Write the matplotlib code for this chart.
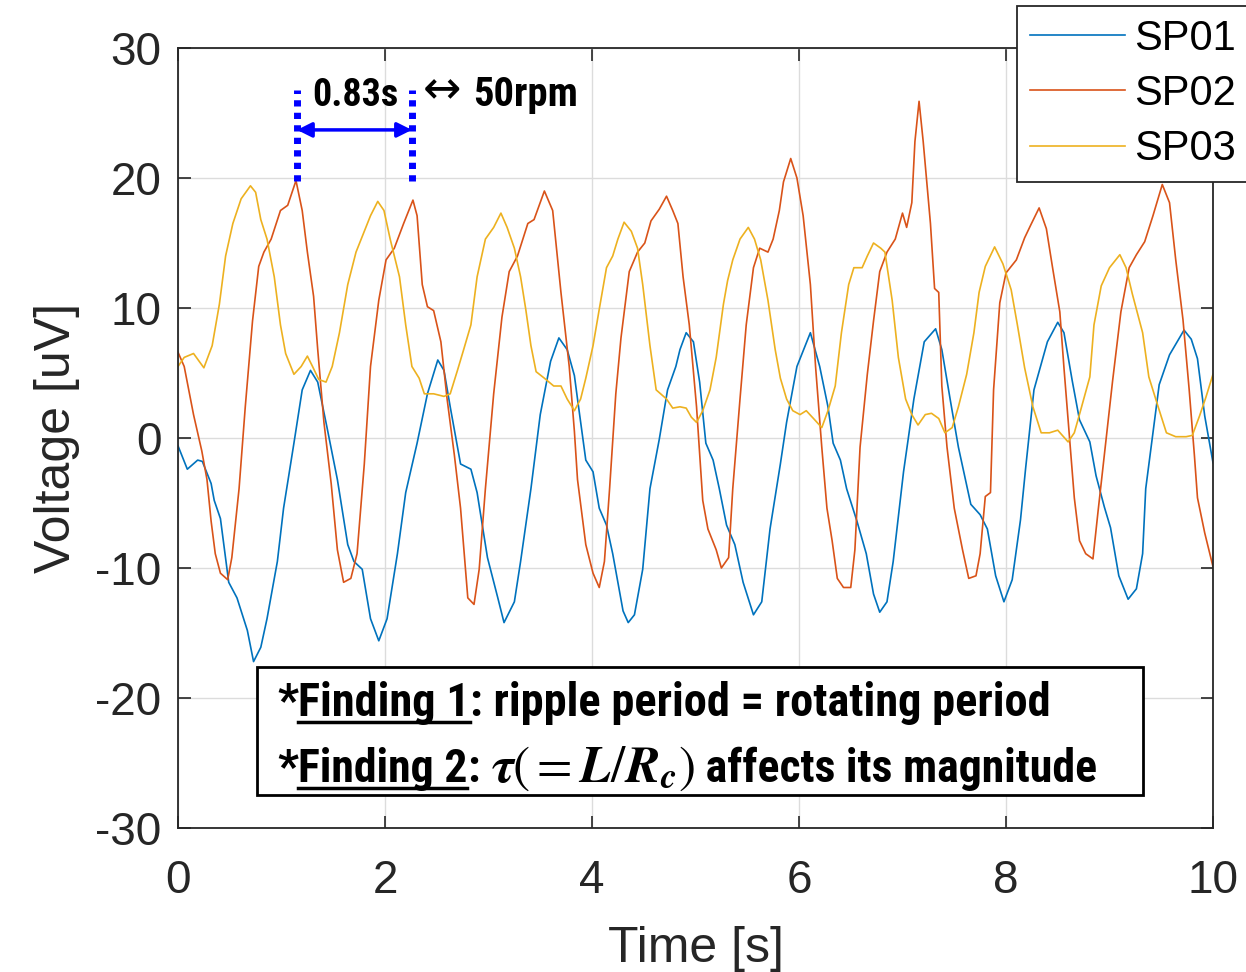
import matplotlib
matplotlib.use("Agg")
import matplotlib.pyplot as plt
from matplotlib.patches import Rectangle
from matplotlib.lines import Line2D
from matplotlib import font_manager as fm

# ---------------- data ----------------
sp01_t = [0.0, 0.09, 0.19, 0.235, 0.32, 0.35, 0.41, 0.49, 0.57, 0.67, 0.73, 0.80, 0.86, 0.96, 1.02, 1.12, 1.20, 1.28,
          1.35, 1.44, 1.54, 1.64, 1.70, 1.78, 1.86, 1.94, 2.02, 2.12, 2.20, 2.31, 2.41, 2.51, 2.57, 2.63, 2.73, 2.83,
          2.89, 2.99, 3.09, 3.15, 3.25, 3.31, 3.41, 3.50, 3.60, 3.68, 3.76, 3.83, 3.86, 3.94, 4.01, 4.07, 4.14, 4.20,
          4.30, 4.35, 4.41, 4.49, 4.56, 4.65, 4.73, 4.81, 4.85, 4.91, 4.98, 5.04, 5.10, 5.17, 5.23, 5.30, 5.38, 5.46,
          5.56, 5.64, 5.72, 5.82, 5.88, 5.98, 6.11, 6.20, 6.28, 6.33, 6.40, 6.46, 6.56, 6.65, 6.72, 6.78, 6.85, 6.91,
          7.01, 7.11, 7.21, 7.32, 7.38, 7.46, 7.54, 7.66, 7.75, 7.82, 7.90, 7.98, 8.06, 8.14, 8.19, 8.27, 8.34, 8.40,
          8.50, 8.56, 8.64, 8.71, 8.81, 8.87, 8.95, 9.01, 9.09, 9.18, 9.26, 9.32, 9.35, 9.42, 9.48, 9.58, 9.72, 9.79,
          9.85, 9.92, 10.0]
sp01_v = [-0.6, -2.4, -1.7, -1.8, -3.5, -4.8, -6.2, -11.1, -12.3, -14.8, -17.2, -16.1, -13.9, -9.5, -5.4, -0.4, 3.7, 5.2,
          4.3, 0.8, -3.2, -8.2, -9.5, -10.1, -13.9, -15.6, -13.9, -8.9, -4.2, -0.4, 3.4, 6.0, 5.2, 2.4, -2.0, -2.4,
          -4.2, -9.2, -12.3, -14.2, -12.6, -9.5, -3.9, 1.8, 5.9, 7.7, 6.8, 4.8, 3.0, -1.7, -2.6, -5.4, -6.7, -8.9,
          -13.3, -14.2, -13.6, -10.1, -3.9, -0.1, 3.7, 5.5, 6.8, 8.1, 7.4, 4.3, -0.4, -1.7, -3.9, -6.7, -8.2, -11.1,
          -13.6, -12.6, -7.0, -2.0, 1.2, 5.5, 8.1, 5.5, 2.4, -0.4, -1.7, -3.9, -6.4, -8.9, -12.0, -13.4, -12.6, -9.5,
          -2.6, 3.0, 7.4, 8.4, 6.8, 3.0, -0.7, -5.1, -5.9, -7.0, -10.6, -12.6, -10.9, -6.3, -2.3, 3.7, 5.7, 7.4,
          8.9, 8.1, 4.4, 1.4, -0.3, -2.9, -5.3, -6.9, -10.6, -12.4, -11.6, -8.9, -3.9, 0.4, 4.1, 6.4, 8.3, 7.6,
          6.1, 1.7, -1.9]

sp02_t = [0.0, 0.06, 0.15, 0.23, 0.28, 0.32, 0.36, 0.41, 0.48, 0.52, 0.59, 0.65, 0.72, 0.78, 0.83, 0.90, 0.99, 1.06,
          1.14, 1.20, 1.25, 1.31, 1.35, 1.41, 1.48, 1.54, 1.60, 1.67, 1.73, 1.80, 1.86, 1.94, 2.01, 2.09, 2.18, 2.27,
          2.31, 2.36, 2.41, 2.47, 2.54, 2.60, 2.67, 2.73, 2.80, 2.86, 2.91, 2.97, 3.05, 3.13, 3.20, 3.28, 3.38, 3.44,
          3.54, 3.62, 3.70, 3.78, 3.83, 3.86, 3.94, 4.01, 4.07, 4.12, 4.17, 4.23, 4.28, 4.33, 4.36, 4.44, 4.51, 4.57,
          4.65, 4.72, 4.78, 4.83, 4.88, 4.94, 5.01, 5.07, 5.12, 5.20, 5.25, 5.32, 5.36, 5.43, 5.49, 5.56, 5.62, 5.70,
          5.75, 5.81, 5.85, 5.92, 5.98, 6.04, 6.11, 6.16, 6.22, 6.27, 6.32, 6.37, 6.43, 6.50, 6.54, 6.59, 6.66, 6.72,
          6.78, 6.85, 6.93, 7.00, 7.04, 7.09, 7.12, 7.16, 7.20, 7.27, 7.31, 7.35, 7.38, 7.43, 7.50, 7.58, 7.64, 7.71,
          7.75, 7.80, 7.85, 7.88, 7.94, 8.00, 8.10, 8.18, 8.24, 8.32, 8.39, 8.45, 8.52, 8.56, 8.61, 8.66, 8.71, 8.77,
          8.84, 8.89, 8.95, 9.03, 9.11, 9.19, 9.26, 9.34, 9.42, 9.51, 9.58, 9.64, 9.71, 9.77, 9.82, 9.85, 9.92, 10.0]
sp02_v = [6.6, 5.5, 1.8, -1.0, -3.2, -6.4, -8.9, -10.4, -10.9, -9.2, -3.9, 2.4, 9.0, 13.2, 14.3, 15.3, 17.5, 17.9,
          19.8, 17.5, 14.3, 10.9, 6.8, 1.2, -3.5, -8.6, -11.1, -10.8, -8.9, -2.0, 5.5, 10.6, 13.7, 14.6, 16.5, 18.3,
          17.1, 11.8, 10.1, 9.8, 7.4, 3.0, -1.3, -5.4, -12.3, -12.8, -10.1, -3.9, 3.4, 9.3, 12.8, 14.0, 16.5, 16.8,
          19.0, 17.5, 11.2, 5.5, 0.5, -3.2, -8.2, -10.4, -11.5, -9.5, -3.9, 3.4, 7.7, 10.9, 12.8, 14.3, 15.0, 16.7,
          17.6, 18.6, 17.5, 16.5, 12.4, 8.7, 2.4, -4.8, -7.0, -8.6, -10.0, -9.2, -3.9, 3.0, 8.7, 13.1, 14.6, 14.3,
          15.3, 17.5, 19.7, 21.5, 20.0, 17.1, 11.8, 5.5, -0.7, -5.4, -7.9, -10.8, -11.5, -11.5, -8.6, -0.7, 4.9, 9.0,
          12.8, 14.3, 15.3, 17.3, 16.2, 18.1, 22.8, 25.9, 22.8, 16.5, 11.5, 11.2, 4.0, -0.7, -5.4, -8.6, -10.8, -10.6,
          -8.9, -4.5, -4.2, 3.7, 10.4, 12.7, 13.7, 15.4, 16.4, 17.7, 16.1, 13.1, 9.7, 5.4, 0.4, -4.6, -7.9, -8.9,
          -9.3, -5.6, -1.3, 4.4, 9.7, 13.1, 14.1, 15.1, 17.1, 19.5, 18.1, 13.7, 9.1, 3.7, -1.3, -4.6, -7.3, -9.9]

sp03_t = [0.0, 0.06, 0.15, 0.25, 0.33, 0.40, 0.46, 0.53, 0.61, 0.70, 0.75, 0.80, 0.86, 0.93, 0.99, 1.04, 1.12, 1.19,
          1.25, 1.30, 1.36, 1.43, 1.49, 1.56, 1.64, 1.72, 1.80, 1.86, 1.93, 1.99, 2.05, 2.14, 2.20, 2.26, 2.33, 2.38,
          2.47, 2.57, 2.63, 2.70, 2.76, 2.83, 2.89, 2.97, 3.05, 3.12, 3.18, 3.25, 3.31, 3.36, 3.41, 3.46, 3.54, 3.63,
          3.70, 3.76, 3.83, 3.89, 3.94, 4.01, 4.07, 4.14, 4.20, 4.25, 4.31, 4.38, 4.44, 4.49, 4.56, 4.62, 4.72, 4.78,
          4.85, 4.91, 4.96, 5.01, 5.07, 5.14, 5.20, 5.27, 5.31, 5.36, 5.43, 5.51, 5.57, 5.63, 5.70, 5.77, 5.82, 5.88,
          5.94, 6.01, 6.07, 6.14, 6.22, 6.28, 6.35, 6.41, 6.48, 6.53, 6.61, 6.66, 6.72, 6.79, 6.83, 6.90, 6.96, 7.03,
          7.09, 7.15, 7.22, 7.28, 7.35, 7.41, 7.48, 7.54, 7.62, 7.69, 7.74, 7.80, 7.89, 7.97, 8.05, 8.11, 8.18, 8.26,
          8.34, 8.42, 8.50, 8.60, 8.66, 8.72, 8.81, 8.85, 8.92, 9.00, 9.10, 9.16, 9.22, 9.32, 9.38, 9.47, 9.55, 9.64,
          9.74, 9.80, 9.87, 9.93, 10.0]
sp03_v = [5.5, 6.2, 6.5, 5.4, 7.1, 10.3, 14.0, 16.5, 18.4, 19.4, 18.9, 16.8, 15.3, 12.4, 8.7, 6.5, 4.9, 5.5,
          6.3, 5.5, 4.5, 4.3, 5.5, 8.1, 11.8, 14.3, 15.9, 17.1, 18.2, 17.5, 15.3, 12.4, 8.7, 5.5, 4.6, 3.4,
          3.4, 3.2, 3.4, 5.2, 6.8, 8.7, 12.4, 15.3, 16.2, 17.3, 16.2, 14.6, 12.4, 9.9, 7.1, 5.1, 4.6, 4.0,
          4.0, 3.0, 2.1, 3.0, 4.6, 7.1, 9.9, 13.1, 14.0, 15.3, 16.6, 15.9, 14.6, 11.8, 7.1, 3.7, 3.0, 2.3,
          2.4, 2.3, 1.6, 1.2, 2.1, 3.7, 6.2, 10.3, 12.1, 13.7, 15.3, 16.2, 15.3, 13.7, 10.6, 6.8, 4.6, 3.0,
          2.1, 1.8, 2.1, 1.5, 0.8, 2.1, 4.0, 8.1, 11.8, 13.1, 13.1, 14.0, 15.0, 14.6, 14.3, 10.6, 6.2, 3.0,
          1.8, 1.0, 1.8, 1.9, 1.5, 0.4, 0.8, 2.4, 4.9, 8.1, 11.2, 13.2, 14.7, 13.4, 11.4, 8.7, 5.4, 2.4,
          0.4, 0.4, 0.6, -0.3, 0.4, 2.1, 4.7, 8.7, 11.7, 13.1, 14.1, 13.1, 11.1, 8.1, 4.7, 2.4, 0.4, 0.1,
          0.1, 0.2, 1.7, 3.1, 4.9]

series_names = ["SP01", "SP02", "SP03"]
x_ticks = [0, 2, 4, 6, 8, 10]
y_ticks = [-30, -20, -10, 0, 10, 20, 30]
period_start, period_end = 1.15, 2.26

# ---------------- fonts ----------------
plt.rcParams['axes.unicode_minus'] = False
plt.rcParams['mathtext.fontset'] = 'stix'
tick_font = 'Liberation Sans'


def _weight(f):
    w = f.weight
    if isinstance(w, str):
        w = fm.weight_dict.get(w, 400)
    return w


def find_narrow_bold():
    prefs = ['liberation sans narrow', 'arial narrow', 'roboto condensed', 'open sans', 'noto sans',
             'dejavu sans', 'liberation', 'roboto', 'lato', 'inter']
    best = None
    for f in fm.fontManager.ttflist:
        name = f.name.lower()
        fname = f.fname.lower()
        narrow = ('narrow' in name or 'condensed' in name or 'narrow' in fname or 'condensed' in fname
                  or str(f.stretch) in ('condensed', 'semi-condensed', 'extra-condensed', 'ultra-condensed'))
        if not narrow or f.style != 'normal':
            continue
        w = _weight(f)
        if w < 600 or w > 800:
            continue
        if 'semi' in fname or 'extra' in fname or 'ultra' in fname:
            rank_s = 1
        else:
            rank_s = 0
        rank_n = len(prefs)
        for i, p in enumerate(prefs):
            if p in name or p.replace(' ', '') in fname.replace('-', '').replace('_', ''):
                rank_n = i
                break
        key = (rank_n, rank_s, abs(w - 700))
        if best is None or key < best[0]:
            best = (key, f.fname)
    return best[1] if best else None


narrow_path = find_narrow_bold()


def bold_fp(size):
    if narrow_path:
        return fm.FontProperties(fname=narrow_path, size=size)
    return fm.FontProperties(family='Liberation Sans', weight='bold', size=size)


# ---------------- figure ----------------
W, H = 1246, 972
fig = plt.figure(figsize=(W / 100, H / 100), dpi=100)


def fx(px):
    return px / W


def fy(py):
    return 1 - py / H


ax = fig.add_axes([fx(178), fy(828), fx(1213) - fx(178), fy(48) - fy(828)])
colors = ['#0072BD', '#D95319', '#EDB120']
for t, v, c, n in zip([sp01_t, sp02_t, sp03_t], [sp01_v, sp02_v, sp03_v], colors, series_names):
    ax.plot(t, v, color=c, lw=1.2, label=n)

ax.set_xlim(0, 10)
ax.set_ylim(-30, 30)
ax.set_xticks(x_ticks)
ax.set_yticks(y_ticks)
ax.set_xticklabels([str(x) for x in x_ticks])
ax.set_yticklabels([str(y) for y in y_ticks])
ax.grid(True, color='#dcdcdc', lw=1.0)
ax.set_axisbelow(True)
ax.tick_params(direction='in', length=9, width=1.2, colors='#262626', labelsize=33,
               top=True, right=True)
ax.tick_params(axis='x', pad=22)
ax.tick_params(axis='y', pad=12)
for lab in ax.get_xticklabels() + ax.get_yticklabels():
    lab.set_fontfamily(tick_font)
for sp in ax.spines.values():
    sp.set_color('#262626')
    sp.set_linewidth(1.3)
ax.set_xlabel('Time [s]', fontsize=36, family=tick_font, color='#262626', labelpad=17)
ax.set_ylabel('Voltage [uV]', fontsize=36, family=tick_font, color='#262626', labelpad=11)

leg = fig.legend(loc='upper left', bbox_to_anchor=(fx(1017), fy(6)), bbox_transform=fig.transFigure,
                 prop={'family': tick_font, 'size': 30}, frameon=True, fancybox=False,
                 handlelength=2.3, handletextpad=0.22, borderpad=0.3, labelspacing=0.37,
                 borderaxespad=0)
leg.get_frame().set_edgecolor('#262626')
leg.get_frame().set_linewidth(1.3)
leg.get_frame().set_alpha(1)

# ---------------- period annotation ----------------
for xt in (period_start, period_end):
    ax.plot([xt, xt], [19.8, 26.8], color='#0000FF', lw=5, linestyle=(0, (0.9, 0.9)),
            solid_capstyle='butt', dash_capstyle='butt')
ax.annotate('', xy=(period_end, 23.7), xytext=(period_start, 23.7),
            arrowprops=dict(arrowstyle='<|-|>', color='#0000FF', lw=2.5, mutation_scale=22,
                            shrinkA=0, shrinkB=0))

fig.canvas.draw()
renderer = fig.canvas.get_renderer()


def fitted_text(x, base, s, target_w, size0, **kw):
    t = fig.text(fx(x), fy(base), s, fontproperties=bold_fp(size0), va='baseline', **kw)
    w = t.get_window_extent(renderer).width
    t.set_fontproperties(bold_fp(size0 * target_w / w))
    return t


fitted_text(312, 106, '0.83s', 86, 31)
fig.text(fx(423), fy(103), '\u2194', fontsize=33, family=['DejaVu Sans'], va='baseline')
fitted_text(473, 106, '50rpm', 105, 31)

# ---------------- findings box ----------------
fig.patches.append(Rectangle((fx(257), fy(795)), fx(1143) - fx(257), fy(667) - fy(795),
                             transform=fig.transFigure, facecolor='white', edgecolor='black',
                             lw=2, zorder=5))

math_candidates = [r'$\mathbfit{\tau}(=\mathbfit{L}/\mathbfit{R}_{\mathbfit{c}})$',
                   r'$\mathbf{\tau}(=\mathbf{\mathit{L}}/\mathbf{\mathit{R}}_{\mathbf{\mathit{c}}})$',
                   r'$\tau(=L/R_c)$']


def build_line(pieces, x0, base, size):
    arts = []
    x = x0
    for txt, under, kind in pieces:
        if kind == 'math':
            t = None
            for cand in math_candidates:
                t = fig.text(fx(x), fy(base), cand, fontsize=size * 1.12, va='baseline', zorder=6)
                try:
                    bb = t.get_window_extent(renderer)
                    break
                except Exception:
                    t.remove()
                    t = None
        else:
            t = fig.text(fx(x), fy(base), txt, fontproperties=bold_fp(size), va='baseline', zorder=6)
            bb = t.get_window_extent(renderer)
        arts.append(t)
        if under:
            ln = Line2D([fx(x), fx(x) + bb.width / W], [fy(base + 6), fy(base + 6)],
                        transform=fig.transFigure, color='black', lw=2.5, zorder=6)
            fig.add_artist(ln)
            arts.append(ln)
        x += bb.width
    return arts, x - x0


def write_line(pieces, x0, base, target_w, size0=32):
    arts, w = build_line(pieces, x0, base, size0)
    for a in arts:
        a.remove()
    build_line(pieces, x0, base, size0 * target_w / w)


write_line([('*', False, 't'), ('Finding 1', True, 't'), (': ripple period = rotating period', False, 't')],
           277, 716, 773)
write_line([('*', False, 't'), ('Finding 2', True, 't'), (': ', False, 't'),
            ('tau', False, 'math'), (' affects its magnitude', False, 't')], 277, 782, 821)

fig.savefig('out.png', dpi=100)
